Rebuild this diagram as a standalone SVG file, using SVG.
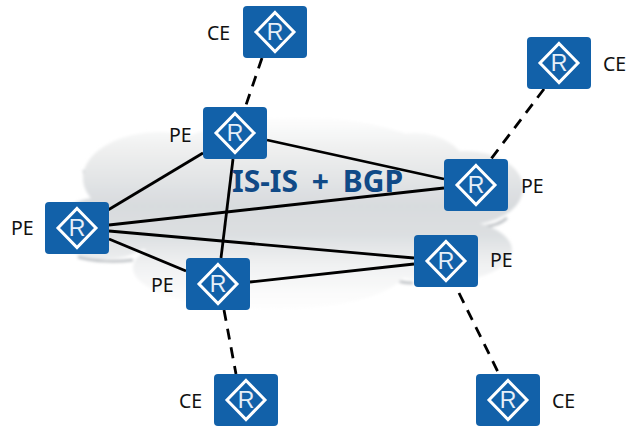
<svg xmlns="http://www.w3.org/2000/svg" width="628" height="430" viewBox="0 0 628 430">
<style>
text{font-family:"Noto Sans","Open Sans","Liberation Sans",sans-serif;font-size:19.500px;fill:#111}
.t{font-size:30px;font-weight:700;fill:#104a87;word-spacing:6px}
.l{stroke:#000;stroke-width:2.800;fill:none}
.d{stroke:#000;stroke-width:2.800;fill:none;stroke-dasharray:11 8}
.b{fill:#1261a9}
.k{fill:none;stroke:#fff;stroke-width:3}
.r{font-size:23px;fill:#e6eff8;font-family:"Liberation Sans",sans-serif}
.s{fill:none;stroke:#b8bcc0;stroke-width:2.500}
</style>
<defs>
<symbol id="rt" width="64" height="52" viewBox="0 0 64 52">
<rect class="b" width="64" height="52" rx="4"/>
<path class="k" d="M32 6.500 51 26 32 45.500 13 26Z"/>
<text class="r" x="32" y="34" text-anchor="middle">R</text>
</symbol>
<linearGradient id="cg" gradientUnits="userSpaceOnUse" x1="0" y1="115" x2="0" y2="315">
<stop offset="0" stop-color="#fff"/><stop offset=".2" stop-color="#eceded"/><stop offset=".45" stop-color="#d8dbde"/><stop offset=".6" stop-color="#dcdfe1"/><stop offset=".75" stop-color="#f0f1f2"/><stop offset=".9" stop-color="#fbfbfb"/><stop offset="1" stop-color="#fff"/>
</linearGradient>
<filter id="bl" x="-5%" y="-5%" width="110%" height="110%"><feGaussianBlur stdDeviation="1.800"/></filter>
</defs>
<rect width="628" height="430" fill="#fff"/>
<g id="cloud" filter="url(#bl)">
<path class="s" d="M84 170C85 182 92 190 103 194M78 257C95 262 118 262 133 260M480 226C490 227 500 224 507 218M392 278C398 282 405 283 413 283"/>
<g fill="url(#cg)">
<ellipse cx="160" cy="178" rx="77" ry="46"/>
<ellipse cx="300" cy="205" rx="180" ry="88"/>
<ellipse cx="415" cy="175" rx="54" ry="42"/>
<ellipse cx="465" cy="188" rx="58" ry="37"/>
<ellipse cx="440" cy="250" rx="72" ry="32"/>
<ellipse cx="105" cy="228" rx="52" ry="31"/>
<ellipse cx="270" cy="268" rx="137" ry="42"/>
</g>
</g>
<g id="connectors">
<line class="l" x1="203" y1="153" x2="108" y2="210"/>
<line class="l" x1="267" y1="140" x2="444" y2="179"/>
<line class="l" x1="233" y1="159" x2="221" y2="258"/>
<line class="l" x1="109" y1="225" x2="444" y2="188"/>
<line class="l" x1="109" y1="231" x2="414" y2="258"/>
<line class="l" x1="109" y1="239" x2="186" y2="271"/>
<line class="l" x1="250" y1="282" x2="414" y2="264"/>
<line class="d" x1="262" y1="58" x2="246" y2="105"/>
<line class="d" x1="544" y1="89" x2="491" y2="159"/>
<line class="d" x1="224" y1="310" x2="236" y2="374"/>
<line class="d" x1="459" y1="293" x2="499" y2="374"/>
</g>
<g id="ce-top"><use href="#rt" x="243" y="6"/><text x="207" y="40">CE</text></g>
<g id="ce-right"><use href="#rt" x="527" y="37"/><text x="603" y="71">CE</text></g>
<g id="pe-top"><use href="#rt" x="203" y="107"/><text x="169" y="142">PE</text></g>
<g id="pe-right"><use href="#rt" x="444" y="159"/><text x="521" y="193">PE</text></g>
<g id="pe-left"><use href="#rt" x="45" y="202"/><text x="11" y="235">PE</text></g>
<g id="pe-bottom"><use href="#rt" x="186" y="258"/><text x="151" y="292">PE</text></g>
<g id="pe-lower-right"><use href="#rt" x="414" y="235"/><text x="490" y="267">PE</text></g>
<g id="ce-bottom-left"><use href="#rt" x="214" y="374"/><text x="179" y="408">CE</text></g>
<g id="ce-bottom-right"><use href="#rt" x="476" y="374"/><text x="552" y="408">CE</text></g>
<text class="t" x="232" y="192">IS-IS + BGP</text>
</svg>
